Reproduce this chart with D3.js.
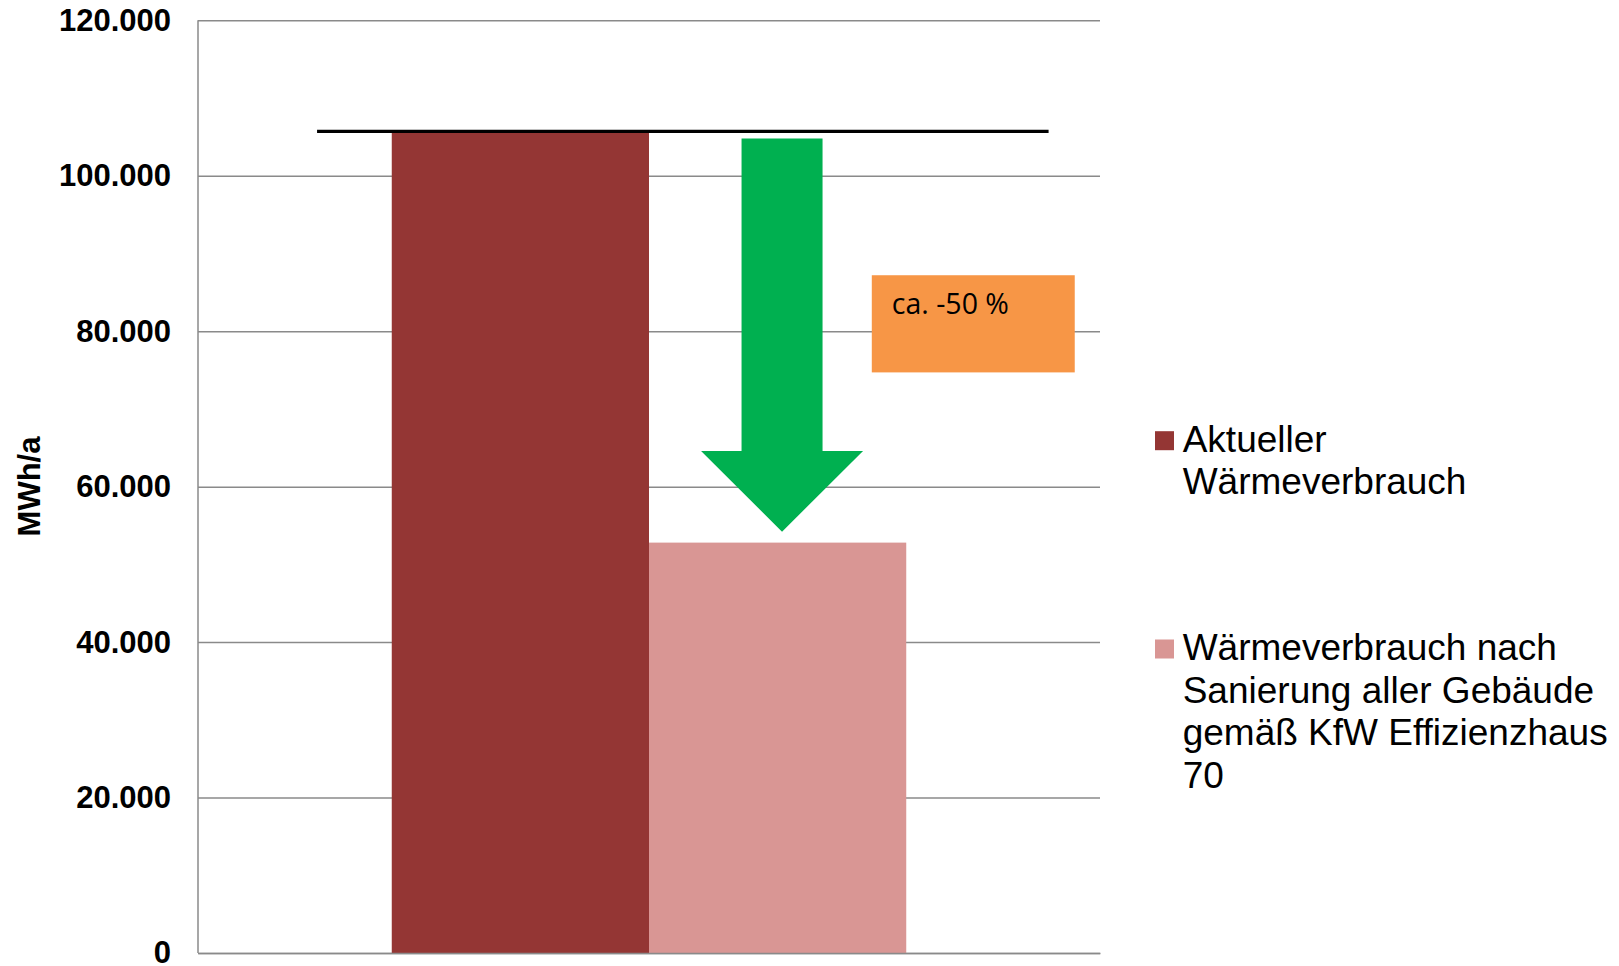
<!DOCTYPE html>
<html>
<head>
<meta charset="utf-8">
<script src="https://cdn.jsdelivr.net/npm/d3@7"></script>
<style>
  body { margin: 0; background: #fff; }
  svg { display: block; }
</style>
</head>
<body>
<div id="chart"></div>
<script>
// data
const categories = [""]
const seriesNames = ["Aktueller Wärmeverbrauch", "Wärmeverbrauch nach Sanierung aller Gebäude gemäß KfW Effizienzhaus 70"]
const seriesValues = [105700, 52800]
const seriesColors = ["#943634", "#d99694"]
const yTicks = [0, 20000, 40000, 60000, 80000, 100000, 120000]
const legendLines = [["Aktueller", "Wärmeverbrauch"], ["Wärmeverbrauch nach", "Sanierung aller Gebäude", "gemäß KfW Effizienzhaus", "70"]]

// annotations (values on the y scale, x as share of the plot width)
const refLineValue = 105700
const refLineSpan = [0.132, 0.943]
const arrowValues = [104800, 64600, 54200] // top of shaft, head base, tip
const arrowPos = 0.6475
const boxValues = [87200, 74700]
const boxSpan = [0.747, 0.972]
const boxText = "ca. -50 %"

const W = 1619, H = 966
const margin = {left: 198, right: 519, top: 20.3, bottom: 13}
const iw = W - margin.left - margin.right
const ih = H - margin.top - margin.bottom

const de = d3.formatLocale({decimal: ",", thousands: ".", grouping: [3], currency: ["", "€"]})
const fmt = de.format(",.0f")

const svg = d3.select("#chart").append("svg")
  .attr("width", W)
  .attr("height", H)

const g = svg.append("g").attr("transform", "translate(" + margin.left + "," + margin.top + ")")

const y = d3.scaleLinear().domain([0, 120000]).range([ih, 0])
const x0 = d3.scaleBand().domain(categories).range([0, iw]).paddingInner(0).paddingOuter(0.3766)
const x1 = d3.scaleBand().domain(seriesNames).range([0, x0.bandwidth()])
const xr = d3.scaleLinear().domain([0, 1]).range([0, iw])

// gridlines + y axis
const yAxis = g.append("g")
  .call(d3.axisLeft(y).tickValues(yTicks).tickSize(-iw).tickPadding(27).tickFormat(fmt))
yAxis.selectAll(".tick line").attr("stroke", "#8a8a8a").attr("stroke-width", 1.5)
yAxis.select(".domain").remove()
yAxis.selectAll("text")
  .attr("font-family", "Liberation Sans, Arial, sans-serif")
  .attr("font-weight", "bold")
  .attr("font-size", 31)
  .attr("fill", "#000")

g.append("line")
  .attr("x1", 0).attr("x2", 0)
  .attr("y1", 0).attr("y2", ih)
  .attr("stroke", "#8a8a8a").attr("stroke-width", 1.5)

// bars
g.selectAll("rect.bar")
  .data(seriesValues)
  .enter()
  .append("rect")
  .attr("class", "bar")
  .attr("x", (d, i) => x0(categories[0]) + x1(seriesNames[i]))
  .attr("width", x1.bandwidth())
  .attr("y", d => y(d))
  .attr("height", d => ih - y(d))
  .attr("fill", (d, i) => seriesColors[i])

// x axis (no labels)
const xAxis = g.append("g")
  .attr("transform", "translate(0," + ih + ")")
  .call(d3.axisBottom(x0).tickSize(0).tickFormat(""))
xAxis.select(".domain").attr("stroke", "#8a8a8a").attr("stroke-width", 1.5)

// reference line at current consumption
g.append("line")
  .attr("x1", xr(refLineSpan[0])).attr("x2", xr(refLineSpan[1]))
  .attr("y1", y(refLineValue)).attr("y2", y(refLineValue))
  .attr("stroke", "#000").attr("stroke-width", 3.3)

// green arrow
const ax = xr(arrowPos)
const shaft = 40.5, head = 81
const arrowPts = [
  [ax - shaft, y(arrowValues[0])],
  [ax + shaft, y(arrowValues[0])],
  [ax + shaft, y(arrowValues[1])],
  [ax + head, y(arrowValues[1])],
  [ax, y(arrowValues[2])],
  [ax - head, y(arrowValues[1])],
  [ax - shaft, y(arrowValues[1])]
]
g.append("path")
  .attr("d", d3.line()(arrowPts) + "Z")
  .attr("fill", "#00b050")

// orange box
g.append("rect")
  .attr("x", xr(boxSpan[0]))
  .attr("y", y(boxValues[0]))
  .attr("width", xr(boxSpan[1]) - xr(boxSpan[0]))
  .attr("height", y(boxValues[1]) - y(boxValues[0]))
  .attr("fill", "#f79646")
g.append("text")
  .attr("x", xr(boxSpan[0]) + 20)
  .attr("y", y(boxValues[0]) + 39)
  .attr("font-family", "Open Sans, sans-serif")
  .attr("font-size", 28.5)
  .attr("fill", "#000")
  .text(boxText)

// y axis title
svg.append("text")
  .attr("transform", "translate(39.5,486.5) rotate(-90)")
  .attr("text-anchor", "middle")
  .attr("font-family", "Liberation Sans, Arial, sans-serif")
  .attr("font-weight", "bold")
  .attr("font-size", 31)
  .text("MWh/a")

// legend
const legendTop = [451.7, 660]
const lg = svg.append("g")
seriesNames.forEach(function(name, i) {
  lg.append("rect")
    .attr("x", 1155)
    .attr("y", legendTop[i] - 20.5)
    .attr("width", 19)
    .attr("height", 19)
    .attr("fill", seriesColors[i])
  const t = lg.append("text")
    .attr("x", 1182.7)
    .attr("y", legendTop[i])
    .attr("font-family", "Liberation Sans, Arial, sans-serif")
    .attr("font-size", 37)
    .attr("fill", "#000")
  t.selectAll("tspan")
    .data(legendLines[i])
    .enter()
    .append("tspan")
    .attr("x", 1182.7)
    .attr("dy", (d, j) => j === 0 ? 0 : 42.7)
    .text(d => d)
})
</script>
</body>
</html>
